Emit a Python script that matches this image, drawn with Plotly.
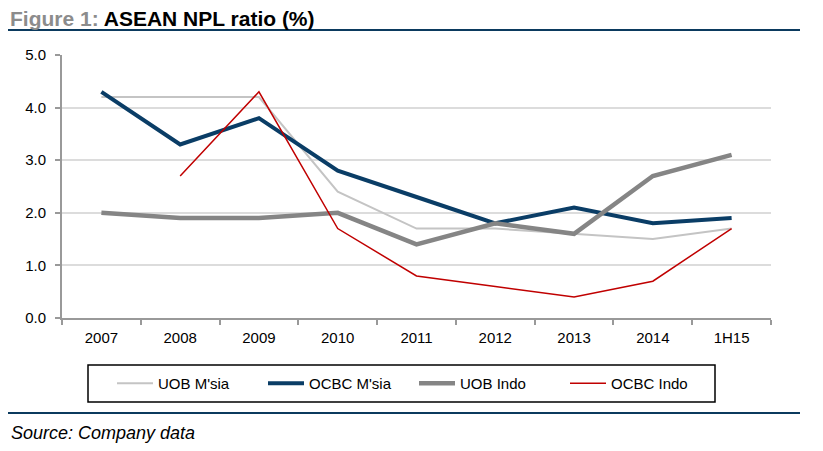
import plotly.graph_objects as go

categories = ["2007", "2008", "2009", "2010", "2011", "2012", "2013", "2014", "1H15"]
uob_msia = [4.2, 4.2, 4.2, 2.4, 1.7, 1.7, 1.6, 1.5, 1.7]
ocbc_msia = [4.3, 3.3, 3.8, 2.8, 2.3, 1.8, 2.1, 1.8, 1.9]
uob_indo = [2.0, 1.9, 1.9, 2.0, 1.4, 1.8, 1.6, 2.7, 3.1]
ocbc_indo = [None, 2.7, 4.3, 1.7, 0.8, 0.6, 0.4, 0.7, 1.7]
y_ticks = [0, 1, 2, 3, 4, 5]
y_tick_labels = ["0.0", "1.0", "2.0", "3.0", "4.0", "5.0"]

FONT = "Arial, Liberation Sans, sans-serif"
W, H = 823, 451
OFF = 8  # page offset of the plot div
L, R, T, B = 54, 60, 47, 141
pw, ph = W - L - R, H - T - B

def px_x(p):
    return (p - OFF - L) / pw

def px_y(p):
    return (H - B - (p - OFF)) / ph

fig = go.Figure()
fig.add_trace(go.Scatter(x=categories, y=uob_msia, name="UOB M'sia", mode="lines",
                         line=dict(color="#c4c4c4", width=2)))
fig.add_trace(go.Scatter(x=categories, y=ocbc_msia, name="OCBC M'sia", mode="lines",
                         line=dict(color="#0a3d66", width=4)))
fig.add_trace(go.Scatter(x=categories, y=uob_indo, name="UOB Indo", mode="lines",
                         line=dict(color="#858585", width=4.5)))
fig.add_trace(go.Scatter(x=categories, y=ocbc_indo, name="OCBC Indo", mode="lines",
                         line=dict(color="#c00000", width=1.5), connectgaps=False))

fig.update_layout(
    width=W, height=H,
    margin=dict(l=L, r=R, t=T, b=B),
    paper_bgcolor="white", plot_bgcolor="white",
    font=dict(family=FONT, size=15, color="black"),
    title=dict(text="<b><span style='color:#8c8c8c'>Figure 1: </span>ASEAN NPL ratio (%)</b>",
               xref="container", yref="container", x=(10 - OFF) / W, y=1 - (19 - OFF) / H,
               xanchor="left", yanchor="middle", font=dict(size=21, family=FONT, color="black")),
    showlegend=True,
    legend=dict(orientation="h", x=px_x(112), y=px_y(383.5), xanchor="left", yanchor="middle",
                borderwidth=0, bgcolor="rgba(0,0,0,0)",
                font=dict(size=15, family=FONT), itemwidth=36, entrywidth=100,
                entrywidthmode="pixels"),
    xaxis=dict(type="category", range=[-0.5, 8.5], showgrid=False,
               showline=True, linecolor="#999999", linewidth=2,
               ticks="outside", ticklen=5, tickcolor="#999999", tickwidth=2,
               tickson="boundaries", tickfont=dict(size=15, family=FONT),
               ticklabelstandoff=5, fixedrange=True),
    yaxis=dict(range=[0, 5], tickvals=y_ticks, ticktext=y_tick_labels,
               showgrid=True, gridcolor="#dcdcdc", gridwidth=2,
               showline=True, linecolor="#999999", linewidth=2,
               ticks="outside", ticklen=5, tickcolor="#999999", tickwidth=2,
               zeroline=False, tickfont=dict(size=15, family=FONT),
               ticklabelstandoff=6, fixedrange=True),
    shapes=[
        dict(type="line", xref="paper", yref="paper", x0=px_x(8), x1=px_x(800),
             y0=px_y(30), y1=px_y(30), line=dict(color="#0b3a5e", width=2)),
        dict(type="line", xref="paper", yref="paper", x0=px_x(8), x1=px_x(800),
             y0=px_y(413), y1=px_y(413), line=dict(color="#0b3a5e", width=2)),
        dict(type="rect", xref="paper", yref="paper", x0=px_x(88), x1=px_x(715),
             y0=px_y(402), y1=px_y(365), line=dict(color="black", width=1.5),
             fillcolor="rgba(0,0,0,0)"),
    ],
    annotations=[
        dict(xref="paper", yref="paper", x=px_x(9), y=px_y(433), xanchor="left", yanchor="middle",
             showarrow=False, font=dict(size=18, family=FONT, color="black"),
             text="<i>Source: Company data</i>"),
    ],
)

fig.write_html("out.html")
